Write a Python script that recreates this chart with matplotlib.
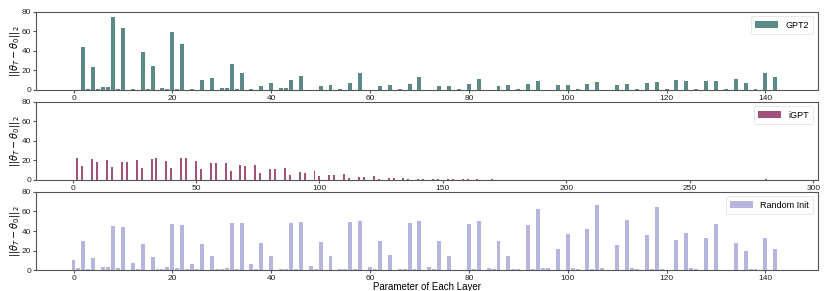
import matplotlib
matplotlib.use("Agg")
import matplotlib.pyplot as plt
import numpy as np

plt.rcParams['font.family'] = ['Liberation Sans', 'DejaVu Sans']
plt.rcParams['mathtext.fontset'] = 'dejavusans'

gpt2_values = [
    0, 0, 43.4, 1.0, 23.6, 1.0, 2.5, 2.5, 74.2, 0.5, 63.2, 0,
    0.5, 0, 38.3, 0.5, 23.9, 0, 2.0, 0.5, 59.5, 0.5, 47.2, 0,
    1.0, 0, 9.9, 0, 11.6, 0, 1.5, 1.5, 26.3, 1.0, 17.1, 0,
    0.3, 0, 4.0, 0, 6.5, 0, 1.5, 1.5, 10.3, 0, 13.7, 0,
    0, 0, 3.8, 0, 4.4, 0, 0.3, 0, 6.8, 0, 16.8, 0,
    0, 0, 4.1, 0, 4.8, 0, 0.3, 0, 6.2, 0, 12.6, 0,
    0, 0, 3.8, 0, 4.1, 0, 0.3, 0, 6.2, 0, 10.6, 0,
    0, 0, 3.8, 0, 4.4, 0, 0.3, 0, 6.2, 0, 9.2, 0,
    0, 0, 4.8, 0, 5.1, 0, 0.3, 0, 6.2, 0, 8.2, 0,
    0, 0, 4.8, 0, 5.5, 0, 0.3, 0, 6.8, 0, 7.5, 0,
    1.0, 0, 9.9, 0, 8.9, 0, 0.3, 0, 9.2, 0, 8.5, 0,
    0.3, 0, 10.9, 0, 6.8, 0, 1.0, 0, 17.1, 0, 13.3, 0,
]

random_values = [
    10.5, 2.4, 29.8, 1.0, 12.5, 0.5, 3.0, 3.5, 45.4, 2.5, 43.7, 0,
    7.8, 1.0, 26.8, 0.5, 13.9, 1.5, 1.5, 3.0, 47.1, 2.0, 46.1, 1.0,
    6.8, 1.0, 27.1, 0, 14.6, 1.0, 1.5, 2.0, 48.1, 1.0, 47.8, 0,
    6.1, 1.0, 28.1, 0, 14.6, 0.5, 1.5, 1.5, 48.5, 1.0, 49.2, 0,
    4.4, 1.0, 28.5, 0, 14.9, 0.5, 1.5, 1.5, 48.8, 1.0, 50.2, 0,
    3.7, 1.0, 29.5, 0, 15.3, 0, 1.0, 1.0, 48.1, 1.0, 50.5, 0,
    3.4, 1.0, 30.2, 0, 14.9, 0.5, 0.5, 0.5, 47.1, 1.0, 50.2, 0,
    2.7, 1.0, 30.2, 0, 14.6, 1.0, 1.0, 0.5, 46.1, 1.0, 62.4, 2.0,
    2.5, 0, 21.7, 0, 36.9, 2.0, 1.5, 0.5, 42.4, 1.0, 66.4, 2.5,
    0.5, 0, 25.8, 0, 50.8, 2.0, 1.5, 0.5, 35.6, 1.0, 64.1, 1.5,
    0.5, 0, 30.8, 0, 38.3, 2.0, 1.0, 0, 32.9, 0.5, 47.1, 0,
    0.5, 0, 27.8, 0, 20.0, 1.5, 1.0, 0, 32.9, 0.5, 21.7, 0,
]

igpt_count = 288
igpt_index = [2, 4, 8, 10, 14, 16, 20, 22, 26, 28, 32, 34, 38, 40, 44, 46,
              50, 52, 56, 58, 62, 64, 68, 70, 74, 76, 80, 82, 86, 88, 92, 94,
              98, 100, 104, 106, 110, 112, 116, 118, 122, 124, 128, 130,
              134, 136, 140, 142, 146, 148, 152, 154, 158, 160, 164, 166,
              170, 172, 281]
igpt_nonzero = [22.6, 14.0, 20.9, 18.5, 20.2, 13.3, 18.1, 17.8, 19.8, 12.3,
                21.2, 21.9, 18.8, 12.0, 21.9, 22.2, 19.5, 11.3, 17.1, 16.8,
                17.1, 8.5, 14.7, 14.4, 14.7, 7.2, 10.9, 10.9, 11.6, 4.8,
                7.5, 6.8, 8.5, 3.4, 4.8, 4.4, 5.8, 1.7, 2.7, 2.7, 3.8, 0.7,
                1.4, 1.4, 2.1, 0.5, 0.7, 0.7, 0.8, 0.3, 0.5, 0.3, 0.4, 0.3,
                0.3, 0.2, 0.3, 0.2, 1.0]

labels = ['GPT2', 'iGPT', 'Random Init']
colors = ['#5b8a88', '#a2527a', '#b5b5de']

igpt_values = np.zeros(igpt_count)
igpt_values[igpt_index] = igpt_nonzero

series = [np.array(gpt2_values), igpt_values, np.array(random_values)]

fig = plt.figure(figsize=(8.3, 2.91), dpi=100)
left, width = 36 / 830, (817.7 - 36) / 830
boxes = [(11.7, 89.7), (101.7, 179.7), (191.7, 270.3)]
spine_c = '#555555'
for i, (vals, lab, col) in enumerate(zip(series, labels, colors)):
    top, bot = boxes[i]
    ax = fig.add_axes([left, 1 - bot / 291, width, (bot - top) / 291])
    x = np.arange(len(vals))
    ax.bar(x, vals, width=0.8, color=col, linewidth=0, label=lab)
    ax.set_ylim(0, 80)
    ax.set_yticks([0, 20, 40, 60, 80])
    if i == 1:
        ax.set_xticks([0, 50, 100, 150, 200, 250, 300])
    else:
        ax.set_xticks([0, 20, 40, 60, 80, 100, 120, 140])
    for s in ax.spines.values():
        s.set_color(spine_c)
        s.set_linewidth(0.8)
    ax.tick_params(axis='both', labelsize=6, length=2.5, width=0.8,
                   color=spine_c, labelcolor='#222222', pad=1)
    ax.set_ylabel(r'$||\theta_T - \theta_0||_2$', fontsize=7, labelpad=0)
    leg = ax.legend(loc='upper right', fontsize=6.5, frameon=True,
                    handlelength=2.5, borderpad=0.5, fancybox=True)
    leg.get_frame().set_edgecolor('#dddddd')
    leg.get_frame().set_linewidth(0.6)
    if i == 2:
        ax.set_xlabel('Parameter of Each Layer', fontsize=7, labelpad=0)

fig.savefig('out.png', dpi=100)
